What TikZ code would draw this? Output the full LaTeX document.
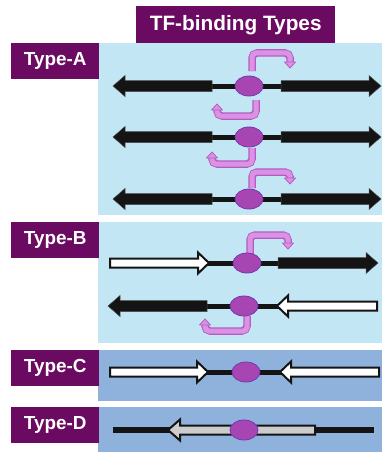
\documentclass[tikz,border=0pt]{standalone}
\usepackage{fontspec}
\setmainfont{Liberation Sans}
\definecolor{labelpurple}{HTML}{6A0A60}
\definecolor{lightblue}{HTML}{C2E6F4}
\definecolor{midblue}{HTML}{8FB2DD}
\definecolor{tfill}{HTML}{A745B2}
\definecolor{tedge}{HTML}{7438B0}
\definecolor{hookfill}{HTML}{DC92E2}
\definecolor{hookedge}{HTML}{B45CC4}
\definecolor{dnablack}{HTML}{141414}
\definecolor{genegray}{HTML}{CCCCCC}
\tikzset{
  typelabel/.style={fill=labelpurple, text=white, font=\fontsize{18.9}{22}\selectfont\bfseries, minimum width=88, minimum height=36, inner sep=0, anchor=north west},
  titlelabel/.style={fill=labelpurple, text=white, font=\fontsize{20.8}{24}\selectfont\bfseries, minimum width=199, minimum height=37, inner sep=0, anchor=north west},
  tf/.style={ellipse, fill=tfill, draw=tedge, line width=0.8, minimum width=28, minimum height=20, inner sep=0},
  dnaline/.style={draw=dnablack, line width=5},
  blackgene/.style={fill=dnablack, draw=black!70, line width=0.5},
  whitegene/.style={fill=white, draw=dnablack, line width=2},
  graygene/.style={fill=genegray, draw=dnablack, line width=2},
  hookout/.style={draw=hookedge, line width=7.5, rounded corners=5},
  hookin/.style={draw=hookfill, line width=5, rounded corners=4},
  hookhead/.style={fill=hookfill, draw=hookedge, line width=0.8, line join=round},
}
\usetikzlibrary{shapes.geometric}
% block gene arrow: #1 style, #2 tail x, #3 tip x, #4 y, #5 signed head length, #6 shaft half width, #7 head half width
\newcommand{\genearrow}[7]{%
  \path[#1] (#2,{#4-#6}) -- ({#3-#5},{#4-#6}) -- ({#3-#5},{#4-#7}) -- (#3,#4)
    -- ({#3-#5},{#4+#7}) -- ({#3-#5},{#4+#6}) -- (#2,{#4+#6}) -- cycle;}
% hook: #1 start x, #2 start y, #3 corner y, #4 end x, #5 head tip y (signed dir #6: 1 down, -1 up)
\newcommand{\hookarrow}[6]{%
  \draw[hookout] (#1,#2) -- (#1,#3) -- (#4,#3) -- (#4,{#5-#6*5});
  \draw[hookin] (#1,{#2+#6*0.0}) -- (#1,#3) -- (#4,#3) -- (#4,{#5-#6*5});
  \path[hookhead] ({#4-5.5},{#5-#6*6}) -- (#4,#5) -- ({#4+5.5},{#5-#6*6}) -- cycle;}
\begin{document}
\begin{tikzpicture}[x=1pt,y=-1pt]
\useasboundingbox (0,0) rectangle (383,452);
\fill[white] (0,0) rectangle (383,452);
% panels
\fill[lightblue] (98,43) rectangle (382,215);
\fill[lightblue] (98,222) rectangle (382,343);
\fill[midblue] (98,350) rectangle (382,401);
\fill[midblue] (98,407) rectangle (382,452);
% labels
\node[titlelabel] (title) at (136,6) {TF-binding Types};
\node[typelabel] (la) at (11,43) {Type-A};
\node[typelabel] (lb) at (11,222) {Type-B};
\node[typelabel] (lc) at (11,350) {Type-C};
\node[typelabel] (ld) at (11,407) {Type-D};

% ---------- Type A ----------
% row 1 (y=86)
\draw[dnaline] (210,86) -- (283,86);
\genearrow{blackgene}{212}{113}{86}{-12}{5.5}{10.5}
\genearrow{blackgene}{281}{381}{86}{12}{5.5}{10.5}
\hookarrow{252}{71}{53}{290}{68}{1}
\hookarrow{256}{100}{116}{217}{104}{-1}
\node[tf] (ta1) at (249,86) {};
% row 2 (y=137)
\draw[dnaline] (210,137) -- (283,137);
\genearrow{blackgene}{212}{113}{137}{-12}{5.5}{10.5}
\genearrow{blackgene}{281}{381}{137}{12}{5.5}{10.5}
\hookarrow{252}{148}{164}{212}{152}{-1}
\node[tf] (ta2) at (249,137) {};
% row 3 (y=199)
\draw[dnaline] (210,199) -- (283,199);
\genearrow{blackgene}{212}{113}{199}{-12}{5.5}{10.5}
\genearrow{blackgene}{281}{381}{199}{12}{5.5}{10.5}
\hookarrow{252}{188}{172}{290}{184}{1}
\node[tf] (ta3) at (249,199) {};

% ---------- Type B ----------
% row 1 (y=263)
\draw[dnaline] (205,263) -- (280,263);
\genearrow{whitegene}{110}{209}{263}{11}{4.5}{10.5}
\genearrow{blackgene}{278}{378}{263}{12}{5.5}{10.5}
\hookarrow{250}{254}{235}{288}{249}{1}
\node[tf] (tb1) at (247,263) {};
% row 2 (y=306)
\draw[dnaline] (205,306) -- (280,306);
\genearrow{blackgene}{207}{108}{306}{-12}{5.5}{10.5}
\genearrow{whitegene}{377}{277}{306}{-11}{4.5}{10.5}
\hookarrow{247}{316}{331}{205}{319}{-1}
\node[tf] (tb2) at (244,306) {};

% ---------- Type C ----------
\draw[dnaline] (205,372) -- (282,372);
\genearrow{whitegene}{110}{208}{372}{11}{4.5}{10.5}
\genearrow{whitegene}{379}{280}{372}{-11}{4.5}{10.5}
\node[tf] (tc) at (246,372) {};

% ---------- Type D ----------
\draw[line width=6, draw=dnablack] (113,430) -- (374,430);
\genearrow{graygene}{315}{168}{430}{-12}{4.5}{10.5}
\node[tf] (td) at (244,430) {};
\end{tikzpicture}
\end{document}
